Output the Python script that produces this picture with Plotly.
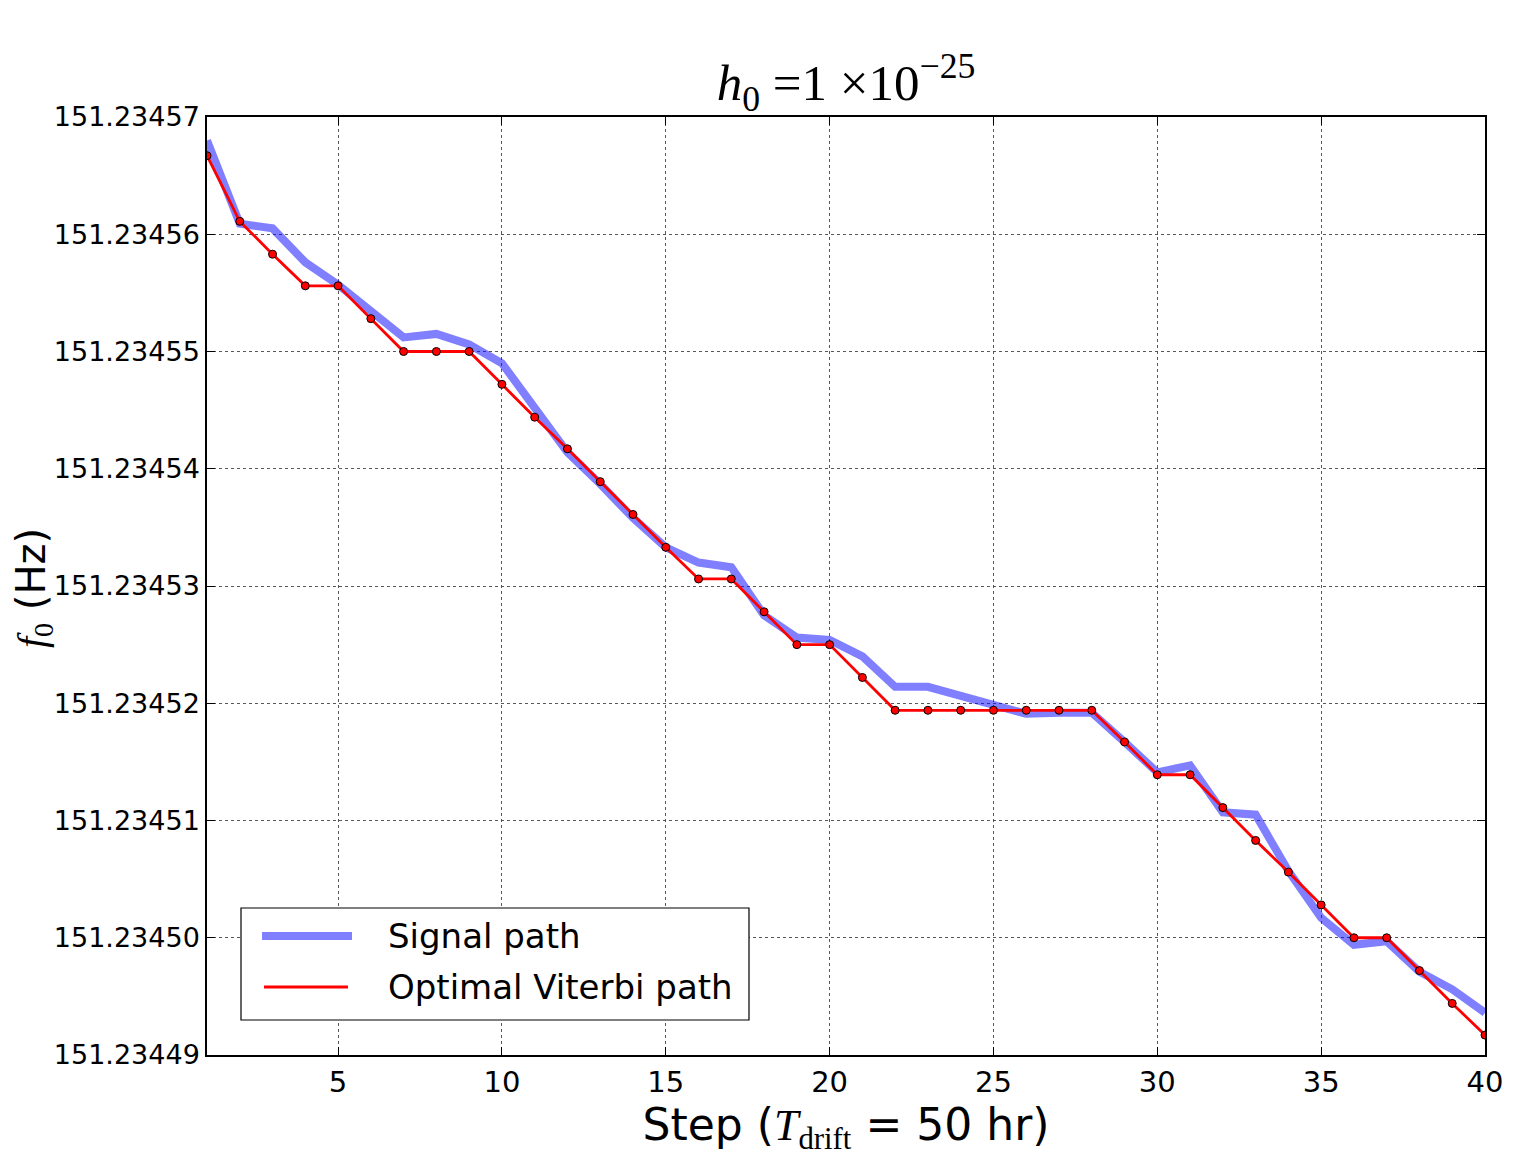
import plotly.graph_objects as go

steps = list(range(1, 41))

signal_path = [
    151.2345680, 151.2345609, 151.2345605, 151.2345576, 151.2345557,
    151.2345535, 151.2345512, 151.2345515, 151.2345506, 151.2345490,
    151.2345452, 151.2345414, 151.2345387, 151.2345358, 151.2345333,
    151.2345320, 151.2345316, 151.2345275, 151.2345256, 151.2345254,
    151.2345240, 151.2345214, 151.2345214, 151.2345206, 151.2345198,
    151.2345191, 151.2345192, 151.2345192, 151.2345167, 151.2345141,
    151.2345147, 151.2345107, 151.2345105, 151.2345057, 151.2345017,
    151.2344994, 151.2344997, 151.2344971, 151.2344956, 151.2344936,
]

viterbi_path = [
    151.2345667, 151.2345611, 151.2345583, 151.2345556, 151.2345556,
    151.2345528, 151.2345500, 151.2345500, 151.2345500, 151.2345472,
    151.2345444, 151.2345417, 151.2345389, 151.2345361, 151.2345333,
    151.2345306, 151.2345306, 151.2345278, 151.2345250, 151.2345250,
    151.2345222, 151.2345194, 151.2345194, 151.2345194, 151.2345194,
    151.2345194, 151.2345194, 151.2345194, 151.2345167, 151.2345139,
    151.2345139, 151.2345111, 151.2345083, 151.2345056, 151.2345028,
    151.2345000, 151.2345000, 151.2344972, 151.2344944, 151.2344917,
]

x_ticks = [5, 10, 15, 20, 25, 30, 35, 40]
y_ticks = [151.23449, 151.23450, 151.23451, 151.23452, 151.23453,
           151.23454, 151.23455, 151.23456, 151.23457]
y_labels = ["151.23449", "151.23450", "151.23451", "151.23452", "151.23453",
            "151.23454", "151.23455", "151.23456", "151.23457"]

legend_names = ["Signal path", "Optimal Viterbi path"]
signal_color = "rgba(0,0,255,0.5)"
viterbi_color = "#ff0000"

W, H = 1525, 1170
L, R, T, B = 199, 48, 109, 123
PW, PH = W - L - R, H - T - B
off = 8


def px(xp):
    return (xp - off - L) / PW


def py(yp):
    return 1 - (yp - off - T) / PH


fig = go.Figure()
fig.add_trace(go.Scatter(
    x=steps, y=signal_path, mode="lines", name=legend_names[0],
    line=dict(color=signal_color, width=8), showlegend=False,
))
fig.add_trace(go.Scatter(
    x=steps, y=viterbi_path, mode="lines+markers", name=legend_names[1],
    line=dict(color=viterbi_color, width=2.8), showlegend=False,
    marker=dict(color=viterbi_color, size=8, line=dict(color="black", width=1)),
))

axis_common = dict(
    showline=True, linecolor="black", linewidth=1.5, mirror="ticks",
    ticks="inside", ticklen=8, tickcolor="black",
    showgrid=True, gridcolor="rgba(70,70,70,0.9)", griddash="dot", gridwidth=1,
    zeroline=False,
)

# legend drawn as a framed box (positions given in page pixels)
shapes = [
    dict(type="rect", xref="paper", yref="paper",
         x0=px(241), x1=px(749), y0=py(1020), y1=py(908),
         line=dict(color="black", width=1.2), fillcolor="white", layer="above"),
    dict(type="line", xref="paper", yref="paper",
         x0=px(262), x1=px(352), y0=py(936), y1=py(936),
         line=dict(color=signal_color, width=8), layer="above"),
    dict(type="line", xref="paper", yref="paper",
         x0=px(264), x1=px(348), y0=py(987), y1=py(987),
         line=dict(color=viterbi_color, width=2.8), layer="above"),
]
annotations = [
    dict(xref="paper", yref="paper", x=px(386), y=py(936),
         xanchor="left", yanchor="middle", showarrow=False,
         text=legend_names[0], font=dict(size=34, color="black")),
    dict(xref="paper", yref="paper", x=px(386), y=py(987),
         xanchor="left", yanchor="middle", showarrow=False,
         text=legend_names[1], font=dict(size=34, color="black")),
    dict(xref="paper", yref="paper", x=px(33), y=py(588),
         xanchor="center", yanchor="middle", showarrow=False, textangle=-90,
         text="<span style='font-family:Liberation Serif'><i>f</i><sub>0</sub></span> (Hz)",
         font=dict(size=40, color="black")),
]

fig.update_layout(
    width=W, height=H,
    margin=dict(l=L, r=R, t=T, b=B),
    paper_bgcolor="white", plot_bgcolor="white",
    font=dict(family="DejaVu Sans", color="black"),
    title=dict(
        text="<i>h</i><sub>0</sub> =1 ×10<sup>−25</sup>",
        x=(L + PW / 2) / W, xanchor="center",
        y=1 - 74 / H, yanchor="middle",
        font=dict(family="Liberation Serif", size=51, color="black"),
    ),
    xaxis=dict(
        range=[1, 40], tickvals=x_ticks,
        tickfont=dict(size=29),
        title=dict(text="Step (<span style='font-family:Liberation Serif'><i>T</i><sub>drift</sub></span> = 50 hr)",
                   font=dict(size=44), standoff=10),
        **axis_common,
    ),
    yaxis=dict(
        range=[151.23449, 151.23457], tickvals=y_ticks, ticktext=y_labels,
        tickfont=dict(size=27),
        **axis_common,
    ),
    shapes=shapes,
    annotations=annotations,
    showlegend=False,
)

fig.write_html("out.html")
